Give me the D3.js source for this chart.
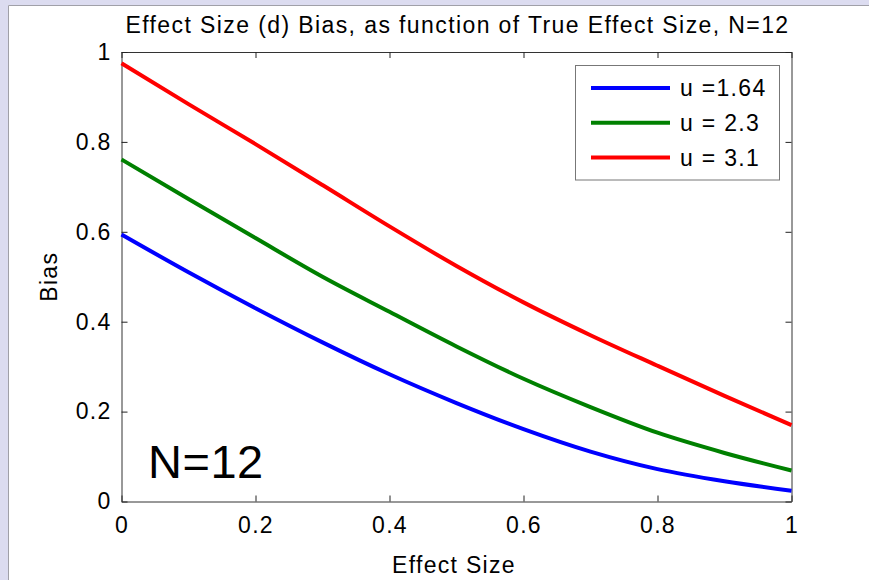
<!DOCTYPE html>
<html>
<head>
<meta charset="utf-8">
<script src="https://cdn.jsdelivr.net/npm/d3@7"></script>
<style>
  body { margin: 0; background: #dcdcf0; }
  svg { display: block; font-family: "Liberation Sans", Arial, sans-serif; }
</style>
</head>
<body>
<svg id="chart" width="869" height="580"></svg>
<script>
// data
const effectSize = [0, 0.1, 0.2, 0.3, 0.4, 0.5, 0.6, 0.7, 0.8, 0.9, 1.0];
const biasU164 = [0.594, 0.510, 0.430, 0.354, 0.283, 0.219, 0.161, 0.111, 0.072, 0.045, 0.024];
const biasU23 = [0.761, 0.673, 0.586, 0.500, 0.422, 0.345, 0.273, 0.210, 0.153, 0.108, 0.069];
const biasU31 = [0.975, 0.884, 0.795, 0.704, 0.612, 0.524, 0.443, 0.370, 0.302, 0.235, 0.170];
const seriesNames = ["u =1.64", "u = 2.3", "u = 3.1"];
const seriesColors = ["#0000ff", "#008000", "#ff0000"];
const xTicks = [0, 0.2, 0.4, 0.6, 0.8, 1];
const yTicks = [0, 0.2, 0.4, 0.6, 0.8, 1];

const svg = d3.select("#chart");
const fontSize = 23;
const spacing = 1.3;

// figure frame: lavender edge, white panel
svg.append("rect").attr("width", 869).attr("height", 580).attr("fill", "#dcdcf0");
svg.append("rect").attr("x", 8).attr("y", 5).attr("width", 861).attr("height", 575).attr("fill", "#fff");
svg.append("path").attr("d", "M8.5,580V5.5H869").attr("fill", "none").attr("stroke", "#a0a0a8");

const plotLeft = 121.5, plotRight = 791.5, plotTop = 52, plotBottom = 501.5;
const x = d3.scaleLinear().domain([0, 1]).range([plotLeft, plotRight]);
const y = d3.scaleLinear().domain([0, 1]).range([plotBottom, plotTop]);

// axes, MATLAB style ticks pointing inward, box on
const styleAxis = (g) => {
    g.select(".domain").attr("stroke", "#333");
    g.selectAll(".tick line").attr("stroke", "#222");
    g.selectAll("text").attr("font-size", fontSize).attr("letter-spacing", spacing)
        .attr("fill", "#000").attr("font-family", "Liberation Sans, Arial, sans-serif");
};

svg.append("g").attr("transform", `translate(0,${plotBottom})`)
    .call(d3.axisBottom(x).tickValues(xTicks).tickFormat(d3.format("")).tickSizeInner(-6).tickSizeOuter(0).tickPadding(15))
    .call(styleAxis);
svg.append("g").attr("transform", `translate(0,${plotTop})`)
    .call(d3.axisTop(x).tickValues(xTicks).tickFormat("").tickSizeInner(-6).tickSizeOuter(0))
    .call(styleAxis);
svg.append("g").attr("transform", `translate(${plotLeft},0)`)
    .call(d3.axisLeft(y).tickValues(yTicks).tickFormat(d3.format("")).tickSizeInner(-6).tickSizeOuter(0).tickPadding(10))
    .call(styleAxis);
svg.append("g").attr("transform", `translate(${plotRight},0)`)
    .call(d3.axisRight(y).tickValues(yTicks).tickFormat("").tickSizeInner(-6).tickSizeOuter(0))
    .call(styleAxis);

// curves
const allSeries = [biasU164, biasU23, biasU31];
const line = d3.line()
    .x((d, i) => x(effectSize[i]))
    .y((d) => y(d))
    .curve(d3.curveMonotoneX);

allSeries.forEach((vals, k) => {
    svg.append("path")
        .datum(vals)
        .attr("d", line)
        .attr("fill", "none")
        .attr("stroke", seriesColors[k])
        .attr("stroke-width", 4);
});

// legend
const legend = svg.append("g");
legend.append("rect").attr("x", 575.5).attr("y", 65.5).attr("width", 204).attr("height", 114.5)
    .attr("fill", "#fff").attr("stroke", "#777");
seriesNames.forEach((name, k) => {
    const ry = 88 + k * 34.7;
    legend.append("line").attr("x1", 591).attr("x2", 670).attr("y1", ry).attr("y2", ry)
        .attr("stroke", seriesColors[k]).attr("stroke-width", 4);
    legend.append("text").attr("x", 680).attr("y", ry).attr("dy", "0.36em")
        .attr("font-size", fontSize).attr("letter-spacing", spacing).text(name);
});

// annotation
svg.append("text").attr("x", 148).attr("y", 478).attr("font-size", 47).attr("letter-spacing", 0.5).text("N=12");

// titles
svg.append("text").attr("x", (plotLeft + plotRight) / 2 + 1).attr("y", 33).attr("text-anchor", "middle")
    .attr("font-size", fontSize).attr("letter-spacing", 1.4)
    .text("Effect Size (d) Bias, as function of True Effect Size, N=12");
svg.append("text").attr("x", 454).attr("y", 573).attr("text-anchor", "middle")
    .attr("font-size", fontSize).attr("letter-spacing", spacing).text("Effect Size");
svg.append("text").attr("transform", `translate(57,${(plotTop + plotBottom) / 2}) rotate(-90)`)
    .attr("text-anchor", "middle").attr("font-size", fontSize).attr("letter-spacing", spacing).text("Bias");
</script>
</body>
</html>
